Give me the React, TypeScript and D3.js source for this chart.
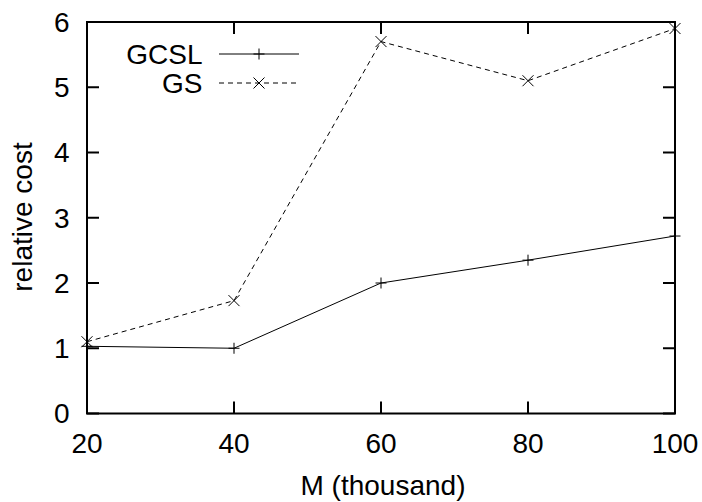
import React from "react";
import * as d3 from "d3";

const categories = [20, 40, 60, 80, 100];
const gcsl = [1.03, 1.0, 2.0, 2.35, 2.72];
const gs = [1.1, 1.73, 5.7, 5.1, 5.9];
const xTicks = [20, 40, 60, 80, 100];
const yTicks = [0, 1, 2, 3, 4, 5, 6];

const W = 702, H = 502;
const L = 87, R = 675, T = 22, B = 413.5;
const FONT = "Arial, 'Liberation Sans', Helvetica, sans-serif";
const FS = 28;

export default function App() {
  const x = d3.scaleLinear().domain([20, 100]).range([L, R]);
  const y = d3.scaleLinear().domain([0, 6]).range([B, T]);
  const line = d3.line<number>().x((_, i) => x(categories[i])).y((d) => y(d));
  const tick = 12;
  const plus = (cx: number, cy: number, k: string) => (
    <path key={k} d={`M${cx - 5.5},${cy}H${cx + 5.5}M${cx},${cy - 5.5}V${cy + 5.5}`} stroke="#000" strokeWidth={1} fill="none" />
  );
  const cross = (cx: number, cy: number, k: string) => (
    <path key={k} d={`M${cx - 5.5},${cy - 5.5}L${cx + 5.5},${cy + 5.5}M${cx - 5.5},${cy + 5.5}L${cx + 5.5},${cy - 5.5}`} stroke="#000" strokeWidth={1} fill="none" />
  );
  return (
    <svg width={W} height={H} style={{ position: "absolute", left: 0, top: 0, background: "#fff" }} fontFamily={FONT}>
      <rect width={W} height={H} fill="#fff" />
      {xTicks.map((t) => (
        <g key={"x" + t}>
          <line x1={x(t)} x2={x(t)} y1={B} y2={B - tick} stroke="#000" strokeWidth={2} />
          <line x1={x(t)} x2={x(t)} y1={T} y2={T + tick} stroke="#000" strokeWidth={2} />
          <text x={x(t)} y={453} fontSize={FS} textAnchor="middle" fill="#000">{t}</text>
        </g>
      ))}
      {yTicks.map((t) => (
        <g key={"y" + t}>
          <line x1={L} x2={L + tick} y1={y(t)} y2={y(t)} stroke="#000" strokeWidth={2} />
          <line x1={R} x2={R - tick} y1={y(t)} y2={y(t)} stroke="#000" strokeWidth={2} />
          <text x={69.5} y={y(t) + 9.8} fontSize={FS} textAnchor="end" fill="#000">{t}</text>
        </g>
      ))}
      <path d={line(gcsl) || ""} fill="none" stroke="#000" strokeWidth={1} />
      <path d={line(gs) || ""} fill="none" stroke="#000" strokeWidth={1} strokeDasharray="5,4" />
      {gcsl.map((v, i) => plus(x(categories[i]), y(v), "p" + i))}
      {gs.map((v, i) => cross(x(categories[i]), y(v), "c" + i))}
      <rect x={L} y={T} width={R - L} height={B - T} fill="none" stroke="#000" strokeWidth={2} />
      <text x={202.5} y={63.5} fontSize={FS} textAnchor="end" fill="#000">GCSL</text>
      <line x1={219} x2={299} y1={54} y2={54} stroke="#000" strokeWidth={1} />
      {plus(259, 54, "lp")}
      <text x={202.5} y={92.5} fontSize={FS} textAnchor="end" fill="#000">GS</text>
      <line x1={219} x2={299} y1={83} y2={83} stroke="#000" strokeWidth={1} strokeDasharray="5,4" />
      {cross(259, 83, "lc")}
      <text x={383} y={495} fontSize={FS} textAnchor="middle" fill="#000">M (thousand)</text>
      <text transform={`translate(32,217) rotate(-90)`} fontSize={FS} textAnchor="middle" fill="#000">relative cost</text>
    </svg>
  );
}
